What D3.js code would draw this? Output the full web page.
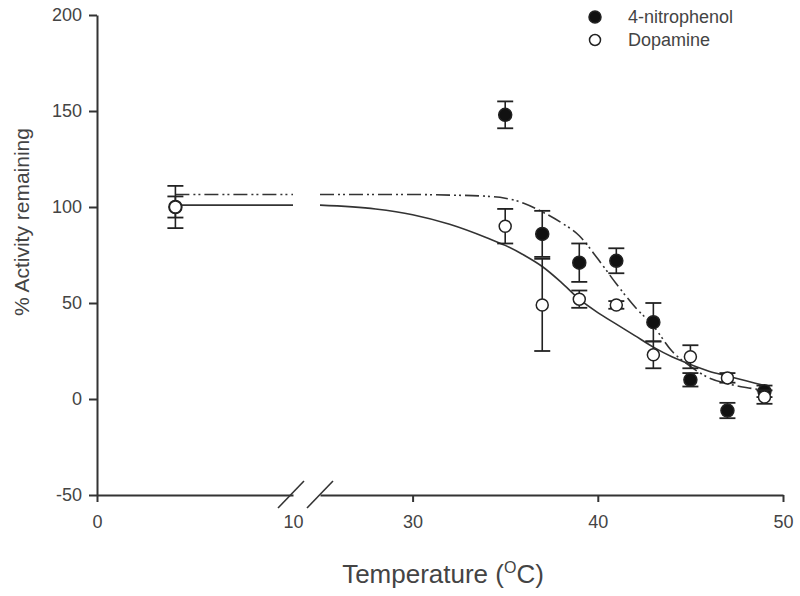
<!DOCTYPE html>
<html>
<head>
<meta charset="utf-8">
<script src="https://cdn.jsdelivr.net/npm/d3@7"></script>
<style>
  body { margin: 0; background: #fff; }
  text { font-family: Arial, "Liberation Sans", sans-serif; fill: #444; }
  .axis path, .axis line { stroke: #333; stroke-width: 2; }
  .axis text { font-size: 18px; fill: #444; }
</style>
</head>
<body>
<svg id="chart" width="800" height="596"></svg>
<script>
// measured points (temperature in C)
const temps = [4, 35, 37, 39, 41, 43, 45, 47, 49];
const nitroMean = [100, 148, 86, 71, 72, 40, 10, -6, 4];
const nitroErr = [5.5, 7, 12, 10, 6.5, 10, 3.5, 4, 3];
const dopaMean = [100, 90, 49, 52, 49, 23, 22, 11, 1];
const dopaErr = [11, 9, 24, 4.5, 2, 7, 6, 2.5, 3.5];

// fitted curves
const fitLeftX = [4, 10];
const nitroFitLeft = [106.5, 106.5];
const dopaFitLeft = [101, 101];
const fitX = [25, 28, 30, 32, 34, 35, 36, 37, 38, 39, 40, 41, 42, 43, 44, 45, 46, 47, 48, 49];
const nitroFit = [106.5, 106.5, 106.5, 106.2, 105.6, 104.6, 102, 97.5, 92, 85, 73, 60, 48, 38, 25, 17, 11, 8, 6, 4.5];
const dopaFit = [101, 99, 96, 91, 84, 80, 75, 69, 61, 52, 45, 39, 33, 27, 22, 18, 14.5, 12, 9.5, 7];

const yTicks = [-50, 0, 50, 100, 150, 200];
const xTicksLeft = [0, 10];
const xTicksRight = [30, 40, 50];
const seriesNames = ['4-nitrophenol', 'Dopamine'];

const svg = d3.select('#chart');

const xL = d3.scaleLinear().domain([0, 10]).range([97, 293]);
const xR = d3.scaleLinear().domain([25, 50]).range([320, 783]);
const x = (t) => t <= 10 ? xL(t) : xR(t);
const y = d3.scaleLinear().domain([-50, 200]).range([495, 15]);

// fit lines
const line = d3.line()
  .x((d) => d[0])
  .y((d) => y(d[1]))
  .curve(d3.curveMonotoneX);

const pairs = (xs, ys, sc) => xs.map((v, i) => [sc(v), ys[i]]);

const curves = svg.append('g');
[[dopaFitLeft, dopaFit, null], [nitroFitLeft, nitroFit, '14,4,2,3,2,4']].forEach(([left, right, dash]) => {
  [pairs(fitLeftX, left, xL), pairs(fitX, right, xR)].forEach((pts) => {
    curves.append('path')
      .datum(pts)
      .attr('d', line)
      .attr('fill', 'none')
      .attr('stroke', '#333')
      .attr('stroke-width', 1.6)
      .attr('stroke-dasharray', dash);
  });
});

// axes
svg.append('g')
  .attr('class', 'axis')
  .attr('transform', 'translate(97,0)')
  .call(d3.axisLeft(y).tickValues(yTicks).tickSize(8).tickSizeOuter(0).tickPadding(7)
    .tickFormat((d) => String(d)));

const axL = svg.append('g')
  .attr('class', 'axis')
  .attr('transform', 'translate(0,495)')
  .call(d3.axisBottom(xL).tickValues(xTicksLeft).tickSize(7).tickSizeOuter(0).tickPadding(13));
axL.selectAll('.tick').filter((d) => d === 10).select('line').remove();

svg.append('g')
  .attr('class', 'axis')
  .attr('transform', 'translate(0,495)')
  .call(d3.axisBottom(xR).tickValues(xTicksRight).tickSize(7).tickSizeOuter(0).tickPadding(13));

// break marks
[xL(10) - 2, xR(25)].forEach((bx) => {
  svg.append('line')
    .attr('x1', bx - 13).attr('y1', 508)
    .attr('x2', bx + 13).attr('y2', 481)
    .attr('stroke', '#333')
    .attr('stroke-width', 1.6);
});

// error bars + points
function drawSeries(means, errs, filled) {
  const g = svg.append('g');
  temps.forEach((t, i) => {
    const cx = x(t);
    const lo = y(means[i] - errs[i]), hi = y(means[i] + errs[i]);
    g.append('line').attr('x1', cx).attr('x2', cx).attr('y1', lo).attr('y2', hi)
      .attr('stroke', '#222').attr('stroke-width', 1.6);
    [lo, hi].forEach((cy) => {
      g.append('line').attr('x1', cx - 8).attr('x2', cx + 8).attr('y1', cy).attr('y2', cy)
        .attr('stroke', '#222').attr('stroke-width', 1.8);
    });
  });
  g.selectAll('circle')
    .data(temps)
    .enter().append('circle')
    .attr('cx', (d) => x(d))
    .attr('cy', (d, i) => y(means[i]))
    .attr('r', filled ? 6.5 : 6)
    .attr('fill', filled ? '#111' : '#fff')
    .attr('stroke', '#222')
    .attr('stroke-width', 1.5);
}
drawSeries(nitroMean, nitroErr, true);
drawSeries(dopaMean, dopaErr, false);

// legend
const legend = svg.append('g');
seriesNames.forEach((name, i) => {
  legend.append('circle')
    .attr('cx', 595).attr('cy', 17 + i * 23)
    .attr('r', i === 0 ? 6 : 5.5)
    .attr('fill', i === 0 ? '#111' : '#fff')
    .attr('stroke', '#222').attr('stroke-width', 1.5);
  legend.append('text')
    .attr('x', 628).attr('y', 23 + i * 23)
    .attr('font-size', 18)
    .text(name);
});

// axis titles
svg.append('text')
  .attr('transform', 'translate(29,222) rotate(-90)')
  .attr('text-anchor', 'middle')
  .attr('font-size', 21)
  .text('% Activity remaining');

const xt = svg.append('text')
  .attr('x', 443).attr('y', 583)
  .attr('text-anchor', 'middle')
  .attr('font-size', 26);
xt.append('tspan').text('Temperature (');
xt.append('tspan').attr('dy', -10).attr('font-size', 16).text('O');
xt.append('tspan').attr('dy', 10).text('C)');
</script>
</body>
</html>
